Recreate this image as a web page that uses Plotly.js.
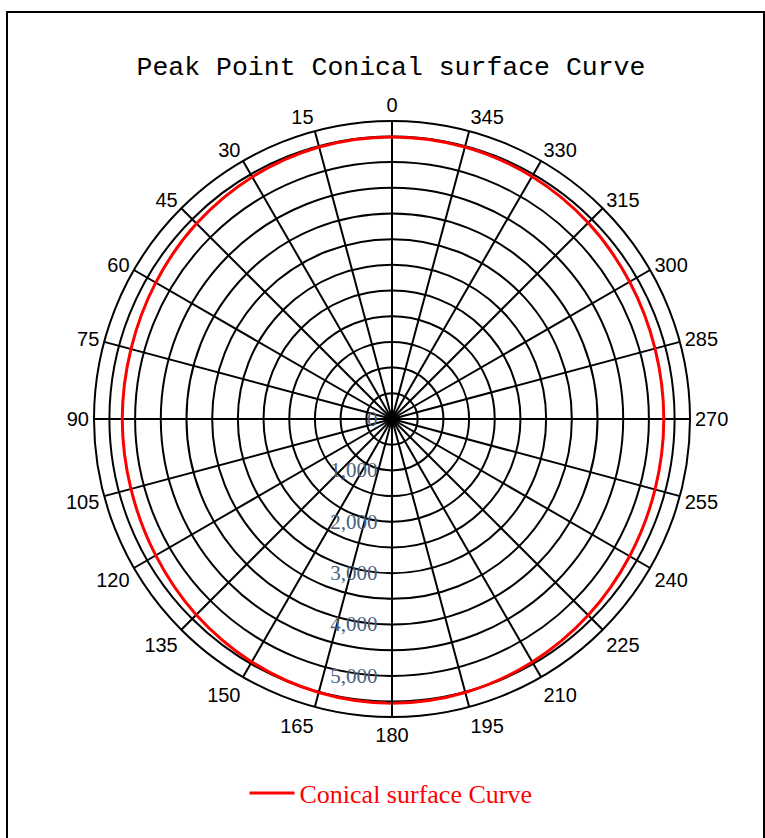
<!DOCTYPE html>
<html>
<head>
<meta charset="utf-8">
<script src="https://cdn.plot.ly/plotly-3.0.1.min.js"></script>
<style>html,body{margin:0;padding:0;background:#fff;}#chart{width:765px;height:838px;}</style>
</head>
<body>
<div id="chart"></div>
<script>
var angles = [0,15,30,45,60,75,90,105,120,135,150,165,180,195,210,225,240,255,270,285,300,315,330,345,360];
var radii  = [5490,5480,5440,5380,5310,5260,5250,5260,5310,5390,5460,5510,5530,5510,5460,5400,5340,5300,5290,5300,5340,5400,5450,5480,5490];
var radialTickVals = [0,500,1000,1500,2000,2500,3000,3500,4000,4500,5000,5500];
var radialTickText = ['0','','1,000','','2,000','','3,000','','4,000','','5,000',''];
var angularTickVals = [0,15,30,45,60,75,90,105,120,135,150,165,180,195,210,225,240,255,270,285,300,315,330,345];
var seriesName = 'Conical surface Curve';
var chartTitle = 'Peak Point Conical surface Curve';

var W = 765, H = 838;
function px(x){return x/W;}
function py(y){return 1 - y/H;}

var trace = {
  type: 'scatterpolar',
  mode: 'lines',
  r: radii,
  theta: angles,
  name: seriesName,
  line: {color: '#ff0000', width: 3, shape: 'spline'},
  showlegend: true
};

var layout = {
  width: W, height: H,
  margin: {l:0, r:0, t:0, b:0},
  paper_bgcolor: '#ffffff',
  title: {
    text: chartTitle,
    x: px(391), y: py(66), xanchor: 'center', yanchor: 'middle',
    xref: 'paper', yref: 'paper',
    font: {family: 'Liberation Mono, DejaVu Sans Mono, monospace', size: 26.5, color: '#000'}
  },
  showlegend: true,
  legend: {
    orientation: 'h', x: px(391), y: py(793), xanchor: 'center', yanchor: 'middle',
    itemwidth: 45,
    font: {family: 'Liberation Serif, Times New Roman, serif', size: 26, color: '#ff0000'},
    bgcolor: 'rgba(0,0,0,0)'
  },
  polar: {
    domain: {x: [px(94), px(690)], y: [py(717), py(121)]},
    bgcolor: '#ffffff',
    angularaxis: {
      rotation: 90,
      direction: 'counterclockwise',
      tickmode: 'array',
      tickvals: angularTickVals,
      ticktext: angularTickVals.map(String),
      ticks: '',
      showline: true,
      linecolor: '#000',
      linewidth: 2,
      gridcolor: '#000',
      gridwidth: 2,
      tickfont: {family: 'Liberation Sans, Arial, sans-serif', size: 20, color: '#000'}
    },
    radialaxis: {
      range: [0, 5800],
      angle: 270,
      side: 'clockwise',
      tickmode: 'array',
      tickvals: radialTickVals,
      ticktext: radialTickText,
      ticks: 'outside',
      ticklen: 5,
      tickcolor: '#000',
      showline: true,
      linecolor: '#000',
      linewidth: 2,
      gridcolor: '#000',
      gridwidth: 2,
      tickangle: -90,
      tickfont: {family: 'Liberation Serif, Times New Roman, serif', size: 21, color: '#4a5f7c'}
    }
  },
  shapes: [{
    type: 'rect', xref: 'paper', yref: 'paper',
    x0: px(7), x1: px(764), y0: py(845), y1: py(12),
    line: {color: '#000', width: 2}, fillcolor: 'rgba(0,0,0,0)', layer: 'below'
  }]
};

Plotly.newPlot('chart', [trace], layout, {displayModeBar: false, staticPlot: true});
</script>
</body>
</html>
